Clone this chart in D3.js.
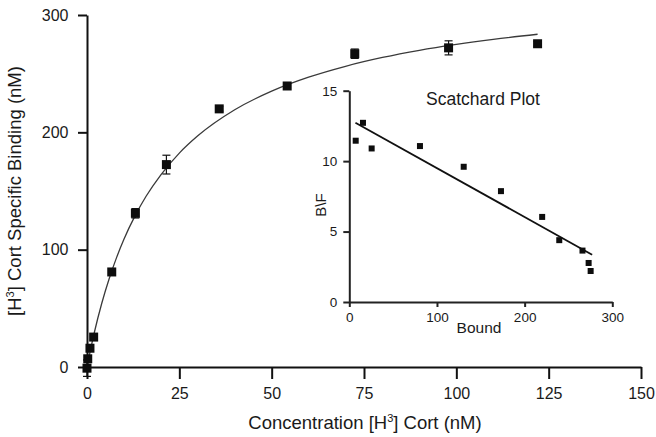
<!DOCTYPE html>
<html>
<head>
<meta charset="utf-8">
<script src="https://cdn.jsdelivr.net/npm/d3@7"></script>
<style>
  html, body { margin: 0; padding: 0; background: #fff; }
  svg { display: block; }
  text { font-family: "Liberation Sans", Arial, sans-serif; fill: #1a1a1a; }
</style>
</head>
<body>
<svg id="chart" width="656" height="437"></svg>
<script>
// ---- Main saturation binding data ----
const concentration = [0, 0.2, 0.8, 1.8, 6.7, 13.1, 21.5, 35.8, 54.2, 72.5, 97.9, 122];
const binding       = [-1, 7, 16, 25.5, 81, 131, 172.5, 220, 239.5, 267, 272, 275.5];
const bindingErr    = [7, 0, 0, 0, 0, 4, 8, 2, 0, 4, 6, 2];

// fitted hyperbola
const fitX = [0, 1, 2, 4, 6, 8, 10, 13, 16, 20, 25, 30, 40, 50, 60, 70, 80, 90, 100, 110, 122];
const fitY = [0, 15.5, 29.6, 54.3, 75.2, 93.2, 108.9, 128.8, 145.5, 163.8, 182.3, 197.0, 219.2, 235.1, 247.0, 256.3, 263.8, 269.9, 274.9, 279.2, 283.6];

const mainXTicks = [0, 25, 50, 75, 100, 125, 150];
const mainYTicks = [0, 100, 200, 300];

// ---- Scatchard inset data ----
const bound = [7.3, 15.6, 25.5, 80.6, 130.5, 173, 220, 239.5, 266, 273, 275.3];
const boundOverFree = [11.45, 12.72, 10.9, 11.07, 9.6, 7.87, 6.04, 4.39, 3.65, 2.77, 2.2];
const scatLineX = [7, 277];
const scatLineY = [12.73, 3.36];
const insetXTicks = [0, 100, 200, 300];
const insetYTicks = [0, 5, 10, 15];

const svg = d3.select("#chart");

// ---------- main plot ----------
const x = d3.scaleLinear().domain([0, 150]).range([87, 641]);
const y = d3.scaleLinear().domain([0, 300]).range([367, 15]);

const xAxis = svg.append("g")
  .attr("transform", `translate(0,${y(0)})`)
  .call(d3.axisBottom(x).tickValues(mainXTicks).tickSize(12).tickSizeOuter(0).tickPadding(9));
const yAxis = svg.append("g")
  .attr("transform", `translate(${x(0)},0)`)
  .call(d3.axisLeft(y).tickValues(mainYTicks).tickSize(9).tickSizeOuter(0).tickPadding(9.5));

[xAxis, yAxis].forEach(g => {
  g.select(".domain").attr("stroke", "#111").attr("stroke-width", 2);
  g.selectAll(".tick line").attr("stroke", "#111").attr("stroke-width", 2);
  g.selectAll(".tick text").attr("font-size", 16).attr("fill", "#1a1a1a")
    .attr("font-family", "Liberation Sans, Arial, sans-serif");
});

// fitted curve
const fitLine = d3.line().x(d => x(d[0])).y(d => y(d[1])).curve(d3.curveMonotoneX);
svg.append("path")
  .datum(fitX.map((v, i) => [v, fitY[i]]))
  .attr("d", fitLine)
  .attr("fill", "none")
  .attr("stroke", "#3a3a3a")
  .attr("stroke-width", 1.3);

const mainPts = concentration.map((c, i) => ({ c, b: binding[i], e: bindingErr[i] }));

// error bars
const eb = svg.append("g").attr("stroke", "#111").attr("stroke-width", 1.2);
mainPts.filter(d => d.e > 0).forEach(d => {
  eb.append("line").attr("x1", x(d.c)).attr("x2", x(d.c)).attr("y1", y(d.b - d.e)).attr("y2", y(d.b + d.e));
  eb.append("line").attr("x1", x(d.c) - 4).attr("x2", x(d.c) + 4).attr("y1", y(d.b - d.e)).attr("y2", y(d.b - d.e));
  eb.append("line").attr("x1", x(d.c) - 4).attr("x2", x(d.c) + 4).attr("y1", y(d.b + d.e)).attr("y2", y(d.b + d.e));
});

// markers
const ms = 9;
svg.append("g").selectAll("rect").data(mainPts).join("rect")
  .attr("x", d => x(d.c) - ms / 2)
  .attr("y", d => y(d.b) - ms / 2)
  .attr("width", ms).attr("height", ms)
  .attr("fill", "#0d0d0d");

// axis titles
const xt = svg.append("text")
  .attr("x", 365).attr("y", 429)
  .attr("text-anchor", "middle")
  .attr("font-size", 18.5);
xt.append("tspan").text("Concentration [H");
xt.append("tspan").attr("font-size", 11).attr("dy", -7).text("3");
xt.append("tspan").attr("dy", 7).text("] Cort (nM)");

const yt = svg.append("text")
  .attr("transform", "translate(20.5,191) rotate(-90)")
  .attr("text-anchor", "middle")
  .attr("font-size", 18.5);
yt.append("tspan").text("[H");
yt.append("tspan").attr("font-size", 11).attr("dy", -7).text("3");
yt.append("tspan").attr("dy", 7).text("] Cort Specific Binding (nM)");

// ---------- Scatchard inset ----------
const xi = d3.scaleLinear().domain([0, 300]).range([349.3, 612.3]);
const yi = d3.scaleLinear().domain([0, 15]).range([302, 90.7]);

const narrow = "Liberation Sans Narrow, Arial Narrow, Liberation Sans, sans-serif";
const xiAxis = svg.append("g")
  .attr("transform", `translate(0,${yi(0)})`)
  .call(d3.axisBottom(xi).tickValues(insetXTicks).tickSize(5).tickSizeOuter(0).tickPadding(5));
const yiAxis = svg.append("g")
  .attr("transform", `translate(${xi(0)},0)`)
  .call(d3.axisLeft(yi).tickValues(insetYTicks).tickSize(6).tickSizeOuter(0).tickPadding(6));

[xiAxis, yiAxis].forEach(g => {
  g.select(".domain").attr("stroke", "#222").attr("stroke-width", 2);
  g.selectAll(".tick line").attr("stroke", "#222").attr("stroke-width", 2);
  g.selectAll(".tick text").attr("font-size", 13.5).attr("fill", "#1a1a1a")
    .attr("font-family", narrow);
});

svg.append("line")
  .attr("x1", xi(scatLineX[0])).attr("y1", yi(scatLineY[0]))
  .attr("x2", xi(scatLineX[1])).attr("y2", yi(scatLineY[1]))
  .attr("stroke", "#111").attr("stroke-width", 1.8);

const ims = 6;
svg.append("g").selectAll("rect").data(bound.map((b, i) => [b, boundOverFree[i]])).join("rect")
  .attr("x", d => xi(d[0]) - ims / 2)
  .attr("y", d => yi(d[1]) - ims / 2)
  .attr("width", ims).attr("height", ims)
  .attr("fill", "#0d0d0d");

svg.append("text")
  .attr("x", 483).attr("y", 105)
  .attr("text-anchor", "middle")
  .attr("font-size", 17.5)
  .text("Scatchard Plot");

svg.append("text")
  .attr("x", 479).attr("y", 333)
  .attr("text-anchor", "middle")
  .attr("font-size", 15.5)
  .text("Bound");

svg.append("text")
  .attr("transform", "translate(326,205) rotate(-90)")
  .attr("text-anchor", "middle")
  .attr("font-size", 15)
  .text("B\\F");
</script>
</body>
</html>
